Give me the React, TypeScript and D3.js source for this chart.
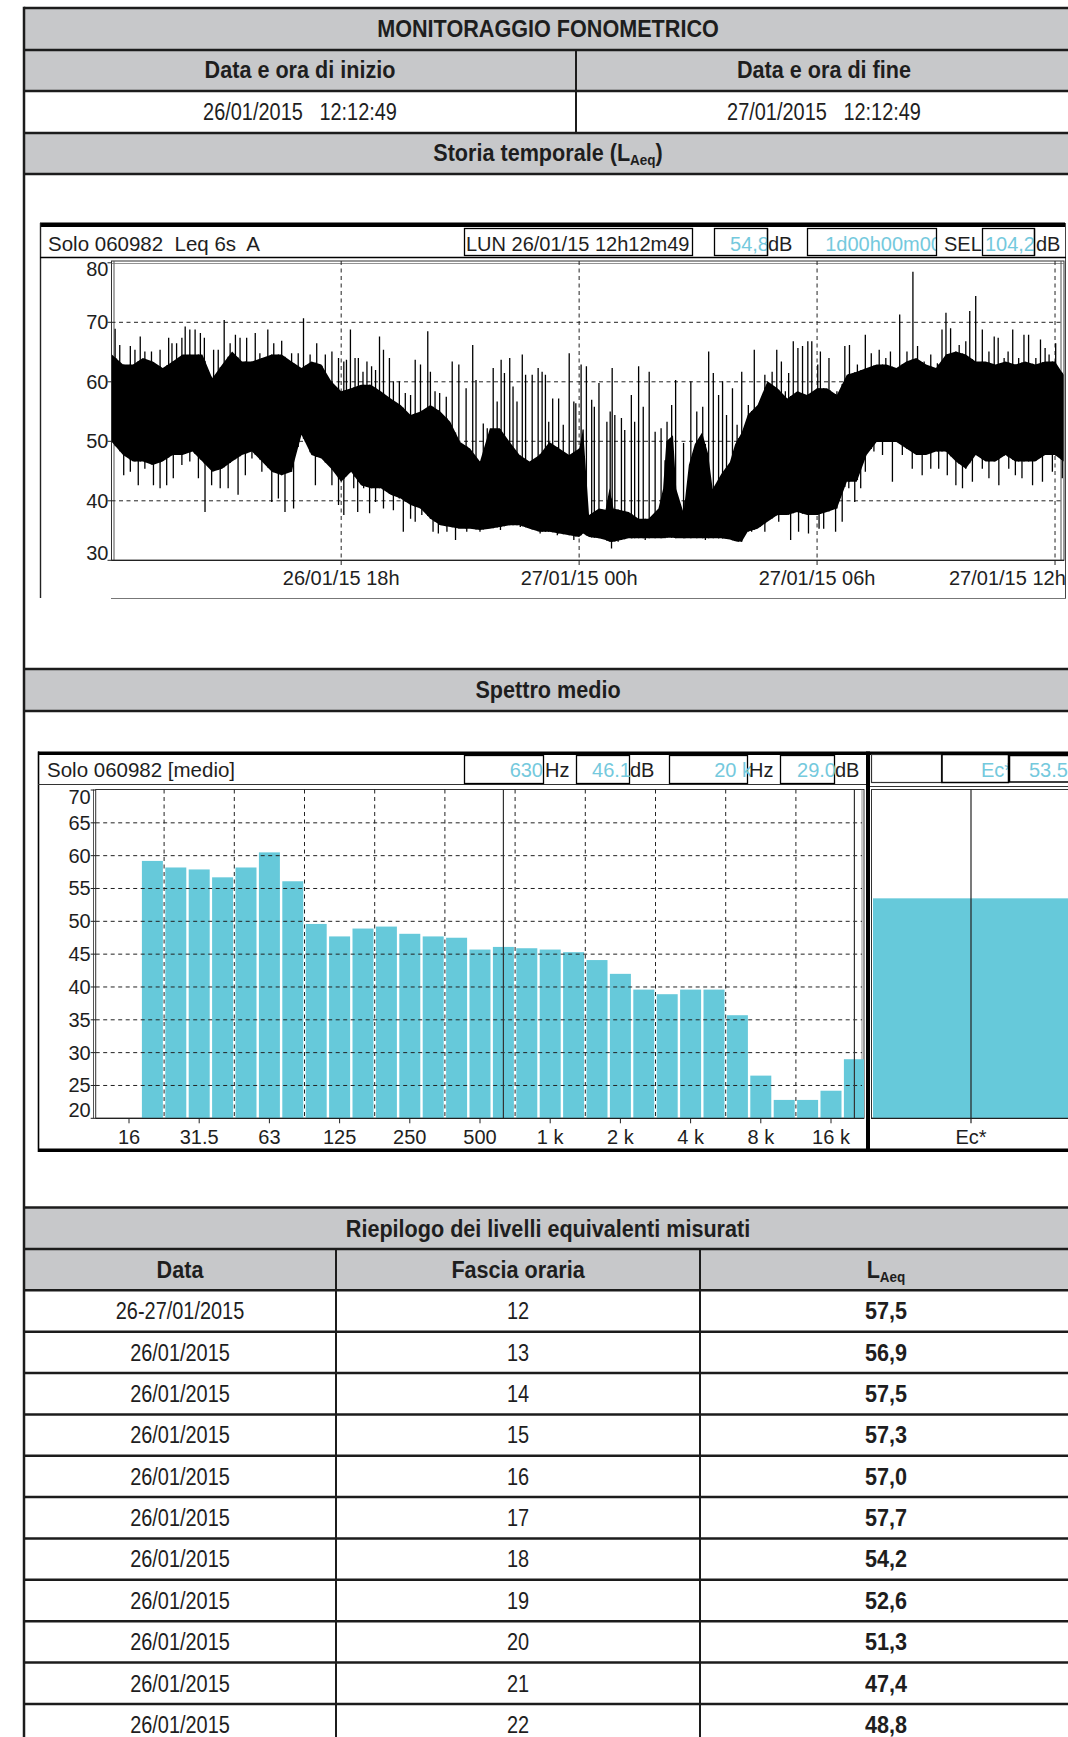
import React from 'react';
import * as d3 from 'd3';

const W = 1068;
const H = 1737;

// ---- time history: minutes after 26/01/15 12:00 ----
const START_MIN = 12.82; // 12:12:49
const END_MIN = 1452.82; // next day 12:12:49

// [minute, dense band top dB, dense band bottom dB]
const body: [number, number, number][] = [
  [13, 64.6, 49.9], [30, 62.9, 47.7], [45, 62.9, 46.6], [60, 64.0, 46.6], [75, 63.4, 46.0],
  [90, 62.3, 46.6], [105, 63.4, 47.7], [120, 64.6, 47.7], [135, 64.6, 48.3], [150, 64.6, 46.6],
  [165, 60.6, 44.9], [180, 62.9, 45.4], [195, 65.1, 46.6], [210, 63.4, 47.7], [225, 63.4, 48.3],
  [240, 64.0, 46.6], [255, 64.6, 44.9], [270, 64.6, 44.3], [285, 63.4, 44.9], [300, 62.3, 51.1],
  [315, 63.4, 47.7], [330, 62.9, 47.1], [345, 60.1, 45.4], [360, 58.4, 43.2],
  [375, 58.9, 44.9], [390, 59.5, 42.6], [405, 59.5, 42.1], [420, 58.4, 42.1], [435, 57.2, 41.0],
  [450, 56.1, 40.4], [465, 54.4, 39.3], [480, 55.0, 38.7], [495, 56.1, 37.0], [510, 55.0, 35.9],
  [525, 53.3, 35.6], [540, 49.9, 35.3], [555, 48.8, 35.3], [570, 46.6, 35.1], [585, 52.2, 35.3],
  [600, 52.2, 35.6], [615, 49.9, 35.9], [630, 47.7, 35.9], [645, 46.6, 35.3], [660, 47.7, 34.8],
  [675, 49.9, 34.8], [690, 48.8, 34.5], [705, 47.7, 34.2], [720, 48.8, 33.9], [726, 52.0, 34.5],
  [735, 37.6, 33.9], [750, 38.7, 33.7], [760, 38.5, 33.4], [766, 42.1, 33.1], [772, 38.7, 33.1],
  [795, 38.1, 33.7], [810, 37.0, 33.7], [825, 37.0, 33.7], [840, 38.7, 33.7], [847, 42.0, 33.7],
  [852, 50.0, 33.8], [862, 51.0, 33.8], [867, 42.0, 33.7], [878, 38.0, 33.7], [886, 46.0, 33.7],
  [895, 49.5, 33.7], [906, 51.5, 33.7], [915, 48.0, 33.7], [922, 42.0, 33.7], [935, 44.5, 33.7],
  [948, 46.5, 33.5], [956, 49.5, 33.2], [966, 51.5, 33.1], [975, 54.4, 34.8], [990, 56.1, 35.3],
  [1005, 60.1, 36.5], [1020, 58.9, 37.6], [1035, 57.2, 37.6], [1050, 58.4, 38.1], [1065, 57.8, 37.6],
  [1080, 58.9, 37.6],
  [1095, 58.9, 38.1], [1110, 57.8, 38.7], [1125, 61.2, 43.2], [1140, 61.7, 43.2], [1155, 62.3, 47.7],
  [1170, 62.9, 49.9], [1185, 62.9, 49.9], [1200, 62.3, 49.9], [1215, 63.4, 48.8], [1230, 64.0, 47.7],
  [1245, 62.9, 47.7], [1260, 62.3, 48.3], [1275, 64.6, 48.3], [1290, 65.1, 46.6], [1305, 64.6, 45.4],
  [1320, 63.4, 47.7], [1335, 63.4, 46.6], [1350, 62.9, 46.6], [1365, 63.4, 47.7], [1380, 62.9, 46.6],
  [1395, 63.4, 46.6], [1410, 62.9, 46.6], [1425, 63.4, 47.7], [1440, 63.4, 47.7], [1453, 61.2, 46.6],
];

// single 6s peaks sticking out above the band [minute, dB]
const peaks: [number, number][] = [
  [18, 68.9], [25, 66.2], [41, 66.0], [48, 65.4], [56, 67.6], [63, 65.1], [73, 65.1], [86, 65.4],
  [99, 67.4], [104, 66.5], [111, 66.5], [119, 67.4], [124, 69.3], [131, 68.8], [139, 68.8], [147, 68.2],
  [153, 67.4], [167, 65.4], [174, 65.4], [183, 70.4], [192, 66.5], [200, 67.9], [207, 67.4], [217, 67.4],
  [230, 68.2], [237, 64.8], [249, 68.8], [258, 66.5], [270, 66.9], [285, 64.8], [295, 64.8], [303, 70.7],
  [313, 64.6], [323, 66.5], [336, 64.6], [346, 65.1], [356, 64.0],
  [364, 63.4], [368, 63.7], [374, 68.8], [381, 64.0], [386, 64.0], [393, 61.7], [399, 63.4], [406, 62.6],
  [412, 62.0], [418, 67.6], [424, 65.4], [433, 64.0], [439, 60.1], [448, 60.1], [457, 58.1], [465, 57.8],
  [472, 63.7], [480, 62.9], [491, 68.5], [495, 61.7], [502, 58.4], [509, 58.1], [519, 57.5], [528, 63.4],
  [538, 62.9], [549, 58.9], [559, 66.2], [564, 60.3], [575, 53.0], [581, 52.2], [590, 62.3], [596, 56.7],
  [602, 63.7], [607, 61.5], [615, 64.0], [620, 59.2], [626, 56.7], [634, 64.6], [639, 61.2], [649, 61.2],
  [658, 62.3], [664, 61.7], [669, 61.2], [674, 53.3], [680, 57.2], [689, 57.2], [696, 52.8], [705, 64.8],
  [712, 56.7], [715, 56.4],
  [723, 62.9], [731, 62.6], [739, 57.0], [743, 55.8], [750, 59.8], [762, 53.3], [767, 55.0], [770, 62.3],
  [774, 54.4], [784, 53.9], [789, 51.9], [799, 57.8], [804, 53.3], [810, 62.6], [817, 55.8], [826, 61.7],
  [835, 51.6], [844, 52.2], [853, 53.3], [860, 56.1], [866, 60.3], [878, 49.7], [889, 60.1], [898, 55.0],
  [907, 55.8], [916, 65.1], [923, 61.5], [931, 57.8], [937, 60.1], [943, 54.4], [952, 58.9], [959, 52.8],
  [966, 61.7], [976, 56.1], [985, 65.4], [994, 56.7], [1001, 61.2], [1012, 61.7], [1019, 65.4], [1026, 63.4],
  [1032, 58.4], [1037, 61.5], [1044, 66.8], [1051, 65.7], [1058, 66.0], [1066, 66.8], [1072, 66.8], [1081, 62.9],
  [1085, 65.1], [1098, 64.0], [1110, 58.4], [1122, 66.0], [1129, 66.2], [1141, 62.9], [1153, 67.9], [1162, 64.8],
  [1174, 65.4], [1184, 64.0], [1191, 65.1], [1205, 71.3], [1216, 65.1], [1225, 78.5], [1232, 66.0], [1242, 63.4],
  [1252, 64.6], [1262, 63.1], [1269, 68.8], [1275, 71.6], [1282, 69.0], [1295, 66.2], [1305, 66.8], [1311, 71.9],
  [1320, 74.4], [1330, 68.8], [1340, 65.1], [1348, 67.6], [1354, 67.4], [1363, 64.0], [1369, 65.1], [1376, 68.8],
  [1385, 64.0], [1393, 67.9], [1400, 67.9], [1411, 64.0], [1418, 67.1], [1425, 65.7], [1431, 64.6], [1441, 66.5],
  [1450, 61.5],
];

// single 6s minima below the band [minute, dB]
const dips: [number, number][] = [
  [20, 49.1], [31, 44.3], [41, 44.9], [53, 42.6], [63, 45.4], [76, 42.6], [86, 42.1], [96, 42.6],
  [106, 43.8], [119, 46.0], [131, 46.6], [144, 43.8], [154, 38.1], [164, 42.6], [177, 42.1], [189, 42.1],
  [204, 41.0], [215, 44.3], [225, 47.1], [240, 44.9], [255, 39.8], [265, 40.4], [275, 38.1], [288, 38.7],
  [306, 49.9], [321, 42.6], [331, 47.7], [346, 42.6], [356, 39.3], [364, 37.6],
  [379, 42.1], [385, 38.1], [394, 42.1], [403, 37.9], [412, 39.8], [424, 38.7], [439, 38.4], [448, 40.4],
  [454, 34.8], [465, 37.0], [472, 36.5], [482, 37.6], [499, 34.8], [507, 34.5], [520, 34.8], [533, 33.4],
  [550, 34.8], [570, 34.8], [601, 35.1], [631, 35.6], [661, 34.5], [687, 34.2], [712, 33.4],
  [726, 34.8], [739, 34.2], [754, 33.7], [769, 32.0], [779, 33.1], [800, 33.7], [820, 33.4], [850, 33.7],
  [880, 33.7], [911, 33.4], [931, 33.7], [961, 33.1], [981, 34.8], [1001, 34.8], [1022, 36.5], [1040, 33.4],
  [1052, 34.8], [1067, 34.5],
  [1083, 35.3], [1090, 35.3], [1100, 38.7], [1108, 34.8], [1118, 36.5], [1128, 42.1], [1137, 39.8], [1146, 42.1],
  [1153, 44.9], [1166, 48.3], [1179, 47.7], [1194, 43.2], [1209, 47.7], [1224, 45.4], [1239, 44.3], [1252, 45.4],
  [1264, 45.4], [1277, 44.3], [1290, 42.6], [1300, 42.1], [1315, 43.2], [1330, 45.4], [1340, 43.8], [1355, 42.6],
  [1370, 45.4], [1380, 44.3], [1390, 43.8], [1406, 42.6], [1421, 43.2], [1436, 44.9], [1451, 43.8],
];

const timeTicks = [360, 720, 1080, 1440];
const timeTickLabels = ['26/01/15 18h', '27/01/15 00h', '27/01/15 06h', '27/01/15 12h'];
const levelTicks = [30, 40, 50, 60, 70, 80];

// ---- average spectrum, third octave bands ----
const bandNames = [
  '16', '20', '25', '31.5', '40', '50', '63', '80', '100', '125', '160', '200', '250', '315', '400', '500',
  '630', '800', '1 k', '1.25 k', '1.6 k', '2 k', '2.5 k', '3.15 k', '4 k', '5 k', '6.3 k', '8 k', '10 k',
  '12.5 k', '16 k', '20 k',
];
const bandLevels: (number | null)[] = [
  null, 59.2, 58.2, 57.9, 56.7, 58.2, 60.5, 56.1, 49.6, 47.7, 48.9, 49.2, 48.1, 47.7, 47.5, 45.7,
  46.1, 45.9, 45.7, 45.3, 44.1, 42.0, 39.6, 38.9, 39.6, 39.6, 35.7, 26.5, 22.8, 22.8, 24.2, 29.0,
];
const bandAxisLabels = ['16', '31.5', '63', '125', '250', '500', '1 k', '2 k', '4 k', '8 k', '16 k'];
const spectrumTicks = [20, 25, 30, 35, 40, 45, 50, 55, 60, 65, 70];
const ecLevel = 53.5;

// ---- summary table ----
const summaryDates = [
  '26-27/01/2015', '26/01/2015', '26/01/2015', '26/01/2015', '26/01/2015', '26/01/2015',
  '26/01/2015', '26/01/2015', '26/01/2015', '26/01/2015', '26/01/2015',
];
const summaryHours = ['12', '13', '14', '15', '16', '17', '18', '19', '20', '21', '22'];
const summaryLaeq = ['57,5', '56,9', '57,5', '57,3', '57,0', '57,7', '54,2', '52,6', '51,3', '47,4', '48,8'];

const GRAY = '#c7c8ca';
const LINE = '#1c1c1c';
const CYAN_TXT = '#74c9dd';
const CYAN_BAR = '#66c9da';
const TXT = '#1e1e1e';
const SANS = '"Liberation Sans", Arial, sans-serif';

const TL = 24;
const TR = 1072;
const CX = (TL + TR) / 2;

// condensed table text (Arial Narrow look)
function NText(props: {
  x: number; y: number; size?: number; bold?: boolean; anchor?: string; children: React.ReactNode;
}) {
  const { x, y, size = 24, bold = false, anchor = 'middle', children } = props;
  return (
    <text
      transform={`translate(${x},${y}) scale(${bold ? 0.9 : 0.83},1)`}
      fontFamily={SANS}
      fontSize={size}
      fontWeight={bold ? 700 : 400}
      textAnchor={anchor}
      fill={TXT}
    >
      {children}
    </text>
  );
}

function interpBody(m: number, k: 1 | 2) {
  const i = d3.bisector((d: [number, number, number]) => d[0]).left(body, m);
  if (i <= 0) return body[0][k];
  if (i >= body.length) return body[body.length - 1][k];
  const a = body[i - 1];
  const b = body[i];
  const t = (m - a[0]) / (b[0] - a[0]);
  return a[k] + (b[k] - a[k]) * t;
}

function TimeHistory() {
  const x = d3.scaleLinear().domain([START_MIN, END_MIN]).range([111.7, 1063.5]);
  const y = d3.scaleLinear().domain([30, 80]).range([560.3, 262.8]);
  const area = d3
    .area<[number, number, number]>()
    .x((d) => x(d[0]))
    .y0((d) => y(d[2]))
    .y1((d) => y(d[1]));

  const left = 111.5;
  const right = 1064;
  const top = 261;
  const bottom = y(30);
  const labelY = (v: number) => (v === 80 ? y(v) + 13 : v === 30 ? y(v) : y(v) + 7);

  return (
    <g>
      {/* frame */}
      <rect x={40} y={222.5} width={1025} height={4.5} fill="#000" />
      <line x1={40.5} x2={40.5} y1={223} y2={598} stroke="#222" strokeWidth={1.4} />
      <line x1={1065.5} x2={1065.5} y1={223} y2={598} stroke="#444" strokeWidth={1} />
      <line x1={40} x2={1066} y1={257.5} y2={257.5} stroke="#000" strokeWidth={1.5} />
      <line x1={111} x2={1066} y1={598.5} y2={598.5} stroke="#777" strokeWidth={1.2} />

      {/* header strip */}
      <text x={48} y={251} fontFamily={SANS} fontSize={20.5} fill={TXT} style={{ whiteSpace: 'pre' }}>
        {'Solo 060982  Leq 6s  A'}
      </text>
      <rect x={464.5} y={228.5} width={228} height={27} fill="none" stroke="#000" strokeWidth={1.3} />
      <text x={466} y={251} fontFamily={SANS} fontSize={20} fill={TXT}>LUN 26/01/15 12h12m49</text>
      <rect x={714.5} y={228.5} width={53} height={27} fill="none" stroke="#000" strokeWidth={1.3} />
      <text x={769} y={251} fontFamily={SANS} fontSize={20} fill={CYAN_TXT} textAnchor="end">54,8</text>
      <line x1={767.5} x2={767.5} y1={228.5} y2={255.5} stroke="#000" strokeWidth={1.3} />
      <text x={768} y={251} fontFamily={SANS} fontSize={20} fill={TXT}>dB</text>
      <text x={942} y={251} fontFamily={SANS} fontSize={20} fill={CYAN_TXT} textAnchor="end">1d00h00m00</text>
      <rect x={937} y={229} width={6} height={26} fill="#fff" />
      <rect x={807.5} y={228.5} width={129} height={27} fill="none" stroke="#000" strokeWidth={1.3} />
      <text x={944} y={251} fontFamily={SANS} fontSize={20} fill={TXT}>SEL</text>
      <rect x={982.5} y={228.5} width={52} height={27} fill="#fff" stroke="#000" strokeWidth={1.3} />
      <text x={1035} y={251} fontFamily={SANS} fontSize={20} fill={CYAN_TXT} textAnchor="end">104,2</text>
      <line x1={1034.5} x2={1034.5} y1={228.5} y2={255.5} stroke="#000" strokeWidth={1.3} />
      <text x={1036} y={251} fontFamily={SANS} fontSize={20} fill={TXT}>dB</text>

      {/* plot frame */}
      <rect x={left} y={top} width={right - left} height={bottom - top} fill="#fff" stroke="#333" strokeWidth={1} />
      <line x1={left + 2.5} x2={left + 2.5} y1={top} y2={bottom} stroke="#555" strokeWidth={1} />
      <line x1={left} x2={right} y1={top + 2.5} y2={top + 2.5} stroke="#777" strokeWidth={0.8} />
      <line x1={right - 3} x2={right - 3} y1={top} y2={bottom} stroke="#555" strokeWidth={1} />

      {/* grid */}
      {levelTicks.filter((v) => v > 30 && v < 80).map((v) => (
        <line key={v} x1={left} x2={right} y1={y(v)} y2={y(v)} stroke="#222" strokeWidth={1} strokeDasharray="4,3.5" />
      ))}
      {timeTicks.map((m) => (
        <line key={m} x1={x(m)} x2={x(m)} y1={top} y2={bottom + 6} stroke="#222" strokeWidth={1} strokeDasharray="4,3.5" />
      ))}

      {/* trace */}
      <defs>
        <clipPath id="thClip">
          <rect x={left} y={top} width={right - left} height={bottom - top} />
        </clipPath>
      </defs>
      <g clipPath="url(#thClip)">
        <path d={area(body) ?? ''} fill="#000" />
        {peaks.map(([m, v], i) => (
          <line key={'p' + i} x1={x(m)} x2={x(m)} y1={y(v)} y2={y(interpBody(m, 2))} stroke="#000" strokeWidth={1.3} />
        ))}
        {dips.map(([m, v], i) => (
          <line key={'d' + i} x1={x(m)} x2={x(m)} y1={y(v)} y2={y(interpBody(m, 1))} stroke="#000" strokeWidth={1.3} />
        ))}
      </g>
      <line x1={left} x2={right} y1={bottom} y2={bottom} stroke="#222" strokeWidth={1.2} />

      {/* axes text */}
      {levelTicks.map((v) => (
        <g key={v}>
          <line x1={left - 4} x2={left} y1={y(v)} y2={y(v)} stroke="#222" />
          <text x={left - 3} y={labelY(v)} fontFamily={SANS} fontSize={20} textAnchor="end" fill={TXT}>{v}</text>
        </g>
      ))}
      {timeTicks.map((m, i) => {
        const cx = x(m);
        const last = cx + 60 > 1068;
        return (
          <text
            key={m}
            x={last ? 949 : cx}
            y={585}
            fontFamily={SANS}
            fontSize={20}
            textAnchor={last ? 'start' : 'middle'}
            fill={TXT}
          >
            {timeTickLabels[i]}
          </text>
        );
      })}
    </g>
  );
}

function Spectrum() {
  const x = d3.scaleLinear().domain([0, 31]).range([129, 854.4]);
  const bw = x(1) - x(0);
  const y = d3.scaleLinear().domain([20, 70]).range([1118.3, 790]);
  const left = 95.7;
  const right = 864;
  const top = 789.5;
  const bottom = y(20);
  const octaveMids = d3.range(0, 10).map((k) => x(1.5 + 3 * k));
  const labelY = (v: number) => (v === 70 ? y(v) + 14 : v === 20 ? y(v) - 1 : y(v) + 7);

  return (
    <g>
      {/* frame */}
      <rect x={38} y={751.5} width={1040} height={3.5} fill="#000" />
      <rect x={38} y={1148.5} width={1040} height={3.5} fill="#000" />
      <line x1={38.5} x2={38.5} y1={751.5} y2={1152} stroke="#000" strokeWidth={1.6} />
      <rect x={866} y={751.5} width={4} height={400} fill="#000" />
      <line x1={38} x2={866} y1={784.5} y2={784.5} stroke="#333" strokeWidth={1.2} />
      <line x1={870} x2={1070} y1={786.5} y2={786.5} stroke="#333" strokeWidth={1.2} />

      {/* header strip */}
      <text x={47} y={777} fontFamily={SANS} fontSize={20.5} fill={TXT}>Solo 060982 [medio]</text>
      <rect x={464.5} y={755.5} width={79} height={28} fill="none" stroke="#000" strokeWidth={1.3} />
      <text x={543} y={777} fontFamily={SANS} fontSize={20} fill={CYAN_TXT} textAnchor="end">630</text>
      <text x={545} y={777} fontFamily={SANS} fontSize={20} fill={TXT}>Hz</text>
      <rect x={576.5} y={755.5} width={53} height={28} fill="none" stroke="#000" strokeWidth={1.3} />
      <text x={631} y={777} fontFamily={SANS} fontSize={20} fill={CYAN_TXT} textAnchor="end">46.1</text>
      <text x={630} y={777} fontFamily={SANS} fontSize={20} fill={TXT}>dB</text>
      <rect x={669.5} y={755.5} width={78} height={28} fill="none" stroke="#000" strokeWidth={1.3} />
      <text x={752} y={777} fontFamily={SANS} fontSize={20} fill={CYAN_TXT} textAnchor="end">20 k</text>
      <text x={749} y={777} fontFamily={SANS} fontSize={20} fill={TXT}>Hz</text>
      <rect x={780.5} y={755.5} width={54} height={28} fill="none" stroke="#000" strokeWidth={1.3} />
      <text x={836} y={777} fontFamily={SANS} fontSize={20} fill={CYAN_TXT} textAnchor="end">29.0</text>
      <text x={835} y={777} fontFamily={SANS} fontSize={20} fill={TXT}>dB</text>

      {/* Ec* header */}
      <rect x={871.5} y={754.5} width={70} height={28} fill="none" stroke="#333" strokeWidth={1.2} />
      <text x={1012} y={777} fontFamily={SANS} fontSize={20} fill={CYAN_TXT} textAnchor="end">Ec*</text>
      <rect x={942} y={754.5} width={66.5} height={28} fill="none" stroke="#000" strokeWidth={1.5} />
      <rect x={1009.5} y={755.5} width={70} height={26.5} fill="#fff" stroke="#000" strokeWidth={1.5} />
      <text x={1029} y={777} fontFamily={SANS} fontSize={20} fill={CYAN_TXT}>53.5</text>

      {/* plot frame */}
      <rect x={left} y={top} width={right - left} height={bottom - top} fill="#fff" stroke="#333" strokeWidth={1} />
      <line x1={left - 2.2} x2={left - 2.2} y1={top} y2={bottom} stroke="#555" strokeWidth={1} />
      <line x1={right - 2} x2={right - 2} y1={top} y2={bottom} stroke="#777" strokeWidth={0.8} />

      {/* bars */}
      {bandLevels.map((v, i) =>
        v == null ? null : (
          <rect
            key={i}
            x={Math.max(left, x(i) - bw / 2 + 1.2)}
            y={y(v)}
            width={Math.min(right, x(i) + bw / 2 - 1.2) - Math.max(left, x(i) - bw / 2 + 1.2)}
            height={bottom - y(v)}
            fill={CYAN_BAR}
          >
            <title>{bandNames[i]}</title>
          </rect>
        ),
      )}

      {/* grid */}
      {spectrumTicks.filter((v) => v > 20 && v < 70).map((v) => (
        <line key={v} x1={left} x2={right - 2} y1={y(v)} y2={y(v)} stroke="#222" strokeWidth={1} strokeDasharray="4,3.5" />
      ))}
      {octaveMids.map((xx, i) => (
        <line key={i} x1={xx} x2={xx} y1={top} y2={bottom} stroke="#222" strokeWidth={1} strokeDasharray="4,3.5" />
      ))}
      {/* cursors at 630 Hz and 20 kHz */}
      <line x1={x(16)} x2={x(16)} y1={top} y2={bottom} stroke="#333" strokeWidth={1.2} />
      <line x1={x(31)} x2={x(31)} y1={top} y2={bottom} stroke="#333" strokeWidth={1.2} />
      <line x1={left} x2={right} y1={bottom} y2={bottom} stroke="#222" strokeWidth={1.2} />

      {/* axes text */}
      {spectrumTicks.map((v) => (
        <g key={v}>
          <line x1={left - 5} x2={left} y1={y(v)} y2={y(v)} stroke="#222" />
          <text x={left - 5} y={labelY(v)} fontFamily={SANS} fontSize={20} textAnchor="end" fill={TXT}>{v}</text>
        </g>
      ))}
      {bandAxisLabels.map((lab) => {
        const i = bandNames.indexOf(lab);
        return (
          <g key={lab}>
            <line x1={x(i)} x2={x(i)} y1={bottom} y2={bottom + 5} stroke="#222" />
            <text x={x(i)} y={1144} fontFamily={SANS} fontSize={20} textAnchor="middle" fill={TXT}>{lab}</text>
          </g>
        );
      })}

      {/* Ec* panel */}
      <rect x={871.5} y={top} width={200} height={bottom - top} fill="#fff" stroke="#333" strokeWidth={1} />
      <rect x={873} y={y(ecLevel)} width={200} height={bottom - y(ecLevel)} fill={CYAN_BAR} />
      <line x1={971} x2={971} y1={top} y2={bottom + 5} stroke="#222" strokeWidth={1.2} />
      <line x1={871} x2={1070} y1={bottom} y2={bottom} stroke="#222" strokeWidth={1.2} />
      <text x={971} y={1144} fontFamily={SANS} fontSize={20} textAnchor="middle" fill={TXT}>Ec*</text>
    </g>
  );
}

export default function App() {
  const topRows = [8, 50, 91, 133, 174];
  const rowH = 41.36;
  const sumTop = 1207.6;
  const sumLines = d3.range(0, 14).map((k) => sumTop + k * rowH);
  const colA = 336;
  const colB = 700;

  return (
    <svg
      width={W}
      height={H}
      viewBox={`0 0 ${W} ${H}`}
      style={{ position: 'absolute', left: 0, top: 0, background: '#fff' }}
    >
      <rect x={0} y={0} width={W} height={H} fill="#fff" />

      {/* gray header bands */}
      <rect x={TL} y={8} width={TR - TL} height={42} fill={GRAY} />
      <rect x={TL} y={50} width={TR - TL} height={41} fill={GRAY} />
      <rect x={TL} y={133} width={TR - TL} height={41} fill={GRAY} />
      <rect x={TL} y={669} width={TR - TL} height={42} fill={GRAY} />
      <rect x={TL} y={sumLines[0]} width={TR - TL} height={rowH * 2} fill={GRAY} />

      {/* table lines */}
      {topRows.map((yy) => (
        <line key={yy} x1={TL} x2={TR} y1={yy} y2={yy} stroke={LINE} strokeWidth={2.5} />
      ))}
      <line x1={576} x2={576} y1={50} y2={133} stroke={LINE} strokeWidth={2} />
      <line x1={TL} x2={TR} y1={669} y2={669} stroke={LINE} strokeWidth={2.5} />
      <line x1={TL} x2={TR} y1={711} y2={711} stroke={LINE} strokeWidth={2.5} />
      {sumLines.map((yy) => (
        <line key={yy} x1={TL} x2={TR} y1={yy} y2={yy} stroke={LINE} strokeWidth={2.5} />
      ))}
      <line x1={colA} x2={colA} y1={sumLines[1]} y2={H} stroke={LINE} strokeWidth={2} />
      <line x1={colB} x2={colB} y1={sumLines[1]} y2={H} stroke={LINE} strokeWidth={2} />
      <line x1={TL} x2={TL} y1={6.8} y2={H} stroke={LINE} strokeWidth={2.5} />

      {/* top table text */}
      <NText x={CX} y={37} bold>MONITORAGGIO FONOMETRICO</NText>
      <NText x={300} y={78} bold>Data e ora di inizio</NText>
      <NText x={824} y={78} bold>Data e ora di fine</NText>
      <NText x={300} y={120}>{'26/01/2015\u00a0\u00a0 12:12:49'}</NText>
      <NText x={824} y={120}>{'27/01/2015\u00a0\u00a0 12:12:49'}</NText>
      <NText x={CX} y={161} bold>
        Storia temporale (L<tspan fontSize={15} dy={4}>Aeq</tspan>
        <tspan dy={-4}>)</tspan>
      </NText>
      <NText x={CX} y={698} bold>Spettro medio</NText>

      <TimeHistory />
      <Spectrum />

      {/* summary table */}
      <NText x={CX} y={sumLines[0] + 29} bold>Riepilogo dei livelli equivalenti misurati</NText>
      <NText x={(TL + colA) / 2} y={sumLines[1] + 29} bold>Data</NText>
      <NText x={(colA + colB) / 2} y={sumLines[1] + 29} bold>Fascia oraria</NText>
      <NText x={(colB + TR) / 2} y={sumLines[1] + 29} bold>
        L<tspan fontSize={15} dy={4}>Aeq</tspan>
      </NText>
      {summaryDates.map((d, i) => {
        const yy = sumLines[2 + i] + 29;
        return (
          <g key={i}>
            <NText x={(TL + colA) / 2} y={yy}>{d}</NText>
            <NText x={(colA + colB) / 2} y={yy}>{summaryHours[i]}</NText>
            <NText x={(colB + TR) / 2} y={yy} bold>{summaryLaeq[i]}</NText>
          </g>
        );
      })}
    </svg>
  );
}
